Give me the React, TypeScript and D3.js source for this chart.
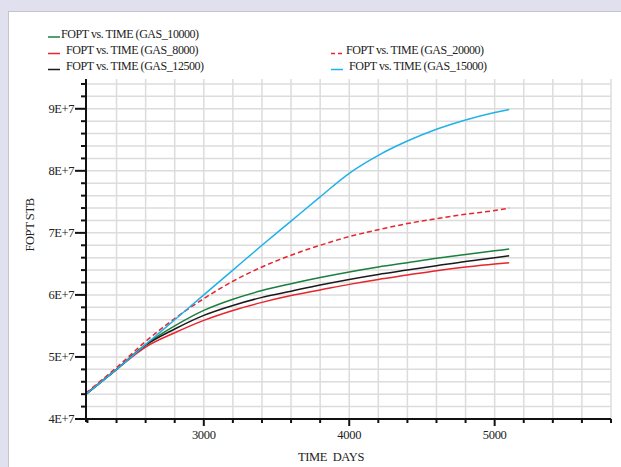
import * as d3 from 'd3';
import React, { useRef, useEffect } from 'react';

// --------------------------------------------------------
// data (FOPT in units of 1E+7 STB)
// --------------------------------------------------------
const times = [2190, 2400, 2600, 2800, 3000, 3200, 3400, 3600, 3800, 4000, 4200, 4400, 4600, 4800, 5000, 5100];
const gas10000 = [4.40, 4.80, 5.20, 5.50, 5.75, 5.93, 6.07, 6.18, 6.28, 6.37, 6.45, 6.52, 6.59, 6.65, 6.71, 6.74];
const gas8000 = [4.40, 4.80, 5.16, 5.39, 5.59, 5.75, 5.88, 5.99, 6.08, 6.17, 6.25, 6.32, 6.39, 6.45, 6.50, 6.52];
const gas12500 = [4.40, 4.80, 5.19, 5.45, 5.67, 5.83, 5.96, 6.06, 6.16, 6.25, 6.33, 6.40, 6.47, 6.54, 6.60, 6.63];
const gas20000 = [4.42, 4.83, 5.25, 5.62, 5.94, 6.22, 6.45, 6.64, 6.80, 6.94, 7.05, 7.15, 7.23, 7.30, 7.36, 7.40];
const gas15000 = [4.40, 4.80, 5.20, 5.60, 6.00, 6.40, 6.80, 7.19, 7.58, 7.96, 8.25, 8.48, 8.67, 8.82, 8.94, 8.99];

const yMajor = [4, 5, 6, 7, 8, 9];
const xMajor = [3000, 4000, 5000];

const series = [
  { name: 'FOPT vs. TIME (GAS_10000)', values: gas10000, color: '#1b7f3d', dash: null },
  { name: 'FOPT vs. TIME (GAS_8000)', values: gas8000, color: '#e8242c', dash: null },
  { name: 'FOPT vs. TIME (GAS_12500)', values: gas12500, color: '#1a1a1a', dash: null },
  { name: 'FOPT vs. TIME (GAS_20000)', values: gas20000, color: '#e8242c', dash: '5,3' },
  { name: 'FOPT vs. TIME (GAS_15000)', values: gas15000, color: '#1fb1e9', dash: null },
];

// legend placement: [lineX, textX, rowY]
const legendPos = [
  [48, 61, 37],
  [48, 66, 53.5],
  [48, 66, 69.5],
  [331, 346, 53.5],
  [331, 349, 69.5],
];

const FONT = '"Liberation Serif", "Times New Roman", serif';

function App() {
  const svgRef = useRef(null);

  useEffect(() => {
    const svg = d3.select(svgRef.current);
    svg.selectAll('*').remove();

    // background + dotted panel
    svg.append('rect').attr('width', 621).attr('height', 467).attr('fill', '#e1e0ee');
    svg.append('rect')
      .attr('x', 8.5).attr('y', 11.5).attr('width', 620).attr('height', 462)
      .attr('fill', '#fff').attr('stroke', '#9a9a9a').attr('stroke-dasharray', '1,1');

    const x = d3.scaleLinear().domain([2190, 5800]).range([86, 611]);
    const y = d3.scaleLinear().domain([4, 9.48]).range([419, 79]);

    const yMinor = d3.range(20, 48).map(d => d / 5);
    const xMinor = d3.range(2200, 5801, 200);

    // grid
    const grid = svg.append('g').attr('stroke', '#dcdcdc').attr('stroke-width', 1.5);
    yMinor.filter(d => d > 4).forEach(d => {
      grid.append('line').attr('x1', x(2190)).attr('x2', x(5800)).attr('y1', y(d)).attr('y2', y(d));
    });
    xMinor.filter(d => d > 2300).forEach(d => {
      grid.append('line').attr('x1', x(d)).attr('x2', x(d)).attr('y1', y(9.48)).attr('y2', y(4));
    });

    // curves
    const line = d3.line().x(d => x(d[0])).y(d => y(d[1])).curve(d3.curveMonotoneX);
    series.forEach(s => {
      svg.append('path')
        .datum(times.map((t, i) => [t, s.values[i]]))
        .attr('d', line)
        .attr('fill', 'none')
        .attr('stroke', s.color)
        .attr('stroke-width', 1.5)
        .attr('stroke-dasharray', s.dash);
    });

    // axes
    const ax = svg.append('g').attr('stroke', '#111').attr('stroke-width', 2);
    ax.append('line').attr('x1', x(2190)).attr('x2', x(2190)).attr('y1', y(9.48)).attr('y2', y(4) + 3);
    ax.append('line').attr('x1', x(2190) - 1).attr('x2', x(5800)).attr('y1', y(4)).attr('y2', y(4));
    yMinor.forEach(d => {
      const len = yMajor.includes(d) ? 11 : 5;
      ax.append('line').attr('x1', x(2190) - len).attr('x2', x(2190)).attr('y1', y(d)).attr('y2', y(d));
    });
    xMinor.forEach(d => {
      const len = xMajor.includes(d) ? 7 : 4;
      ax.append('line').attr('x1', x(d)).attr('x2', x(d)).attr('y1', y(4)).attr('y2', y(4) + len);
    });

    const txt = svg.append('g').attr('font-family', FONT).attr('font-size', 12.5).attr('fill', '#222');
    yMajor.forEach(d => {
      txt.append('text').attr('x', x(2190) - 12).attr('y', y(d) + 4)
        .attr('text-anchor', 'end').attr('letter-spacing', -0.4).text(`${d}E+7`);
    });
    xMajor.forEach(d => {
      txt.append('text').attr('x', x(d)).attr('y', 439)
        .attr('text-anchor', 'middle').attr('letter-spacing', -0.3).text(d);
    });
    txt.append('text').attr('x', 331).attr('y', 461).attr('text-anchor', 'middle')
      .attr('word-spacing', 3).attr('letter-spacing', -0.4).text('TIME DAYS');
    txt.append('text').attr('transform', 'translate(34,225) rotate(-90)')
      .attr('text-anchor', 'middle').attr('letter-spacing', -0.4).text('FOPT STB');

    // legend
    series.forEach((s, i) => {
      const [lx, tx, ly] = legendPos[i];
      svg.append('line')
        .attr('x1', lx).attr('x2', lx + 12).attr('y1', ly).attr('y2', ly)
        .attr('stroke', s.color).attr('stroke-width', 1.5)
        .attr('stroke-dasharray', s.dash ? '4,3' : null);
      svg.append('text')
        .attr('x', tx).attr('y', ly + 0.5)
        .attr('font-family', FONT).attr('font-size', 12).attr('letter-spacing', -0.45)
        .attr('fill', '#222').text(s.name);
    });
  });

  return (
    <svg ref={svgRef} width={621} height={467}
      style={{ position: 'absolute', left: 0, top: 0, display: 'block' }} />
  );
}

export default App;
